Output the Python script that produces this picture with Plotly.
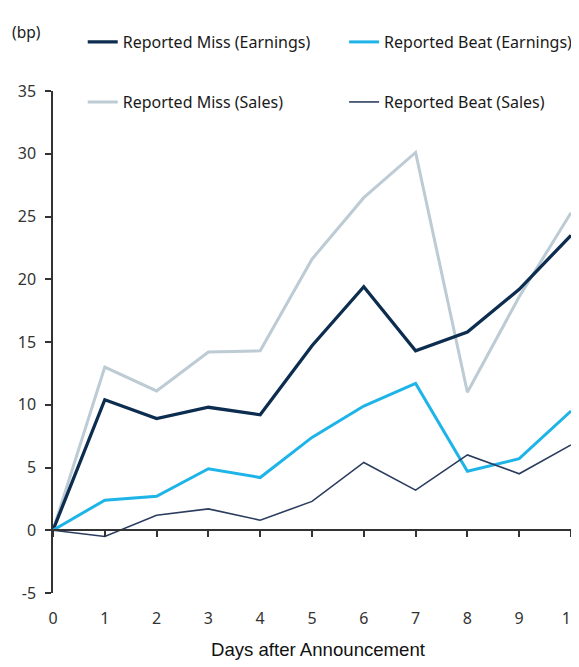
import plotly.graph_objects as go

days = list(range(0, 11))
miss_earnings = [0, 10.4, 8.9, 9.8, 9.2, 14.7, 19.4, 14.3, 15.8, 19.2, 23.5]
beat_earnings = [0, 2.4, 2.7, 4.9, 4.2, 7.4, 9.9, 11.7, 4.7, 5.7, 9.5]
miss_sales = [0, 13.0, 11.1, 14.2, 14.3, 21.6, 26.5, 30.1, 11.0, 18.6, 25.3]
beat_sales = [0, -0.5, 1.2, 1.7, 0.8, 2.3, 5.4, 3.2, 6.0, 4.5, 6.8]

y_ticks = [-5, 0, 5, 10, 15, 20, 25, 30, 35]
y_tick_labels = ["-5", "0", "5", "10", "15", "20", "25", "30", "35"]
x_title = "Days after Announcement"
y_unit = "(bp)"

C_MISS_E = "#0c2d4f"
C_BEAT_E = "#1eb4e8"
C_MISS_S = "#bccbd4"
C_BEAT_S = "#2b3d5f"

fig = go.Figure()
fig.add_trace(go.Scatter(x=days, y=miss_sales, mode="lines", name="Reported Miss (Sales)",
                         line=dict(color=C_MISS_S, width=3), legend="legend3"))
fig.add_trace(go.Scatter(x=days, y=miss_earnings, mode="lines", name="Reported Miss (Earnings)",
                         line=dict(color=C_MISS_E, width=3.3), legend="legend"))
fig.add_trace(go.Scatter(x=days, y=beat_earnings, mode="lines", name="Reported Beat (Earnings)",
                         line=dict(color=C_BEAT_E, width=3), legend="legend2"))
fig.add_trace(go.Scatter(x=days, y=beat_sales, mode="lines", name="Reported Beat (Sales)",
                         line=dict(color=C_BEAT_S, width=1.6), legend="legend4"))
# helper trace so the zero-crossing x axis is drawn
fig.add_trace(go.Scatter(x=[None], y=[None], xaxis="x2", showlegend=False, hoverinfo="skip"))

tick_font = dict(family="Noto Sans, Open Sans, sans-serif", size=16, color="#333333")
legend_font = dict(family="Noto Sans, Open Sans, sans-serif", size=16, color="#1a1a1a")


def leg(x, y):
    return dict(orientation="h", x=x, xanchor="left", y=y, yanchor="middle", itemwidth=30,
                font=legend_font, bgcolor="rgba(0,0,0,0)", borderwidth=0)


fig.update_layout(
    width=579, height=667,
    margin=dict(l=45, r=16, t=83, b=82, autoexpand=False),
    paper_bgcolor="white", plot_bgcolor="white",
    showlegend=True,
    xaxis=dict(range=[0, 10], tickvals=days, showline=False, ticks="", showgrid=False,
               zeroline=False, tickfont=tick_font, ticklabelstandoff=14),
    xaxis2=dict(range=[0, 10], matches="x", overlaying="x", anchor="free", position=0.125,
                tickvals=days, showline=True, linecolor="#333333", linewidth=1.5,
                ticks="outside", ticklen=6, tickcolor="#333333", tickwidth=1.5,
                showticklabels=False, showgrid=False, zeroline=False),
    yaxis=dict(range=[-5, 35], tickvals=y_ticks, ticktext=y_tick_labels, showline=True,
               linecolor="#333333", linewidth=1.5,
               ticks="outside", ticklen=6, tickcolor="#333333", tickwidth=1.5,
               showgrid=False, zeroline=False, tickfont=tick_font, ticklabelstandoff=6),
    legend=leg(0.0574, 1.0976),
    legend2=leg(0.562, 1.0976),
    legend3=leg(0.0574, 0.978),
    legend4=leg(0.562, 0.978),
    annotations=[
        dict(text=y_unit, xref="paper", yref="paper", x=-0.083, y=1.117,
             xanchor="left", yanchor="middle", showarrow=False,
             font=dict(family="Noto Sans, Open Sans, sans-serif", size=15.5, color="#1a1a1a")),
        dict(text=x_title, xref="paper", yref="paper", x=0.5135, y=-0.1135,
             xanchor="center", yanchor="middle", showarrow=False,
             font=dict(family="Liberation Sans, Arial, sans-serif", size=18.6, color="#111111")),
    ],
)

fig.write_html("out.html")
